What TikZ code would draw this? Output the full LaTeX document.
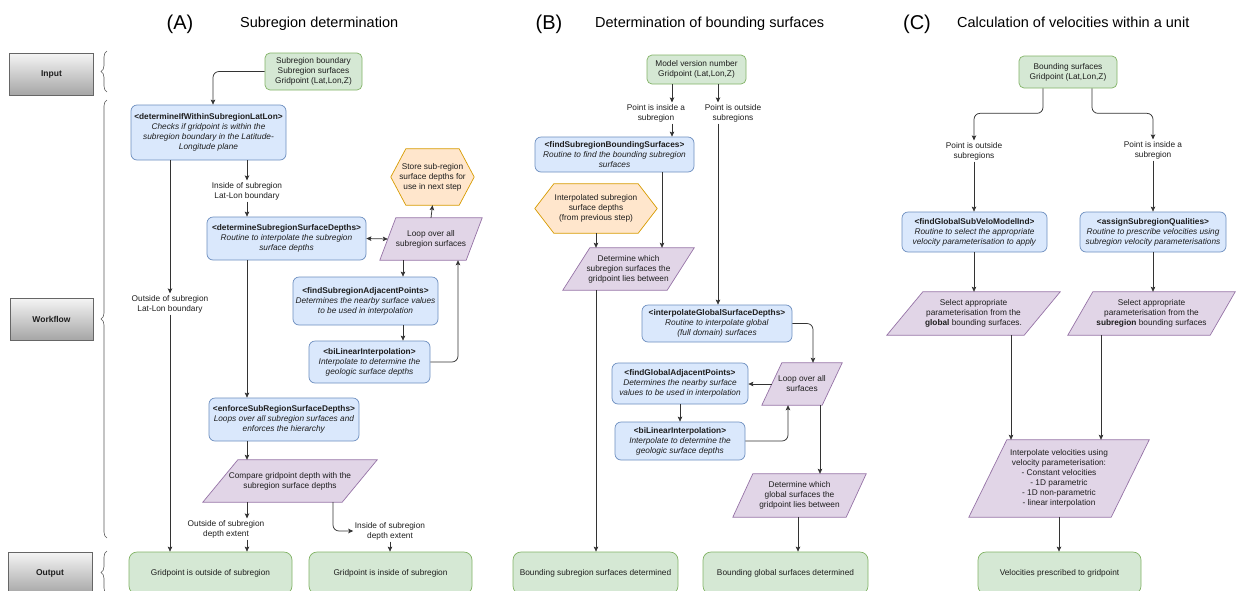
\documentclass[tikz,border=0pt]{standalone}
\usepackage{fontspec}
\setmainfont{Liberation Sans}
\usetikzlibrary{arrows.meta,decorations.pathreplacing,backgrounds,calc}
\definecolor{bfill}{HTML}{DAE8FC}
\definecolor{bline}{HTML}{6C8EBF}
\definecolor{gfill}{HTML}{D5E8D4}
\definecolor{gline}{HTML}{82B366}
\definecolor{pfill}{HTML}{E1D5E7}
\definecolor{pline}{HTML}{9673A6}
\definecolor{ofill}{HTML}{FFE6CC}
\definecolor{oline}{HTML}{D79B00}
\definecolor{edgec}{HTML}{333333}
\definecolor{txtc}{HTML}{1E1E1E}
\newcommand\paraback[2]{\begin{pgfonlayer}{background}\draw[parashape] ([xshift=#2]#1.north west) -- (#1.north east) -- ([xshift=-#2]#1.south east) -- (#1.south west) -- cycle;\end{pgfonlayer}}
\newcommand\hexback[2]{\begin{pgfonlayer}{background}\draw[hexshape] ([xshift=#2]#1.north west) -- ([xshift=-#2]#1.north east) -- (#1.east) -- ([xshift=-#2]#1.south east) -- ([xshift=#2]#1.south west) -- (#1.west) -- cycle;\end{pgfonlayer}}
\tikzset{
 base/.style={font=\fontsize{8.3}{10}\selectfont, text=txtc, align=center, inner sep=0pt},
 sz/.style 2 args={minimum width=#1, minimum height=#2},
 blubox/.style={base, draw=bline, fill=bfill, rounded corners=6, line width=0.7pt},
 grnbox/.style={base, draw=gline, fill=gfill, rounded corners=5, line width=0.7pt},
 outbox/.style={grnbox, rounded corners=8},
 lbl/.style={base, inner sep=1.5pt},
 ptxt/.style={base},
 parashape/.style={draw=pline, fill=pfill, line width=0.7pt},
 hexshape/.style={draw=oline, fill=ofill, line width=0.7pt},
 graybox/.style={base, font=\fontsize{8.5}{10}\selectfont\bfseries, draw=black!60, top color=black!4, bottom color=black!35, line width=0.6pt},
 arr/.style={->, draw=edgec, line width=0.75pt},
 brc/.style={decorate, decoration={brace, amplitude=6pt}, draw=black!65, line width=0.6pt},
 ttl/.style={font=\fontsize{14.5}{16}\selectfont, anchor=base west, inner sep=0pt},
 ttlL/.style={font=\fontsize{20}{22}\selectfont, anchor=base, inner sep=0pt},
}
\begin{document}
\begin{tikzpicture}[x=1pt, y=-1pt, >={Stealth[length=5pt,width=4.5pt,inset=1pt]}]
\useasboundingbox (0,0) rectangle (1237,590);

% titles
\node[ttlL] (tA) at (180,29) {(A)};
\node[ttl] (tA2) at (240,27.5) {Subregion determination};
\node[ttlL] (tB) at (549,29) {(B)};
\node[ttl] (tB2) at (595,27.5) {Determination of bounding surfaces};
\node[ttlL] (tC) at (917,29) {(C)};
\node[ttl] (tC2) at (957,27.5) {Calculation of velocities within a unit};

% left gray labels
\node[graybox, sz={84}{42}] (gIn) at (51.5,74) {Input};
\node[graybox, sz={83}{42}] (gWf) at (51.5,319) {Workflow};
\node[graybox, sz={84}{42}] (gOut) at (50,573) {Output};
\draw[brc] (107,92) -- (107,51);
\draw[brc] (107,538) -- (107,100);
\draw[brc] (107,594) -- (107,551);

% ---------------- Column A ----------------
\node[grnbox, sz={97}{37}] (inA) at (313.5,71.5) {Subregion boundary\\Subregion surfaces\\Gridpoint (Lat,Lon,Z)};
\node[blubox, sz={155}{55}] (dA1) at (208.5,132.5) {\textbf{<determineIfWithinSubregionLatLon>}\\\textit{Checks if gridpoint is within the}\\\textit{subregion boundary in the Latitude-}\\\textit{Longitude plane}};
\node[lbl] (lA1) at (247,191) {Inside of subregion\\Lat-Lon boundary};
\node[lbl] (lA2) at (170,304) {Outside of subregion\\Lat-Lon boundary};
\node[blubox, sz={159}{43}] (dA2) at (286.5,238.5) {\textbf{<determineSubregionSurfaceDepths>}\\\textit{Routine to interpolate the subregion}\\\textit{surface depths}};
\node[ptxt, sz={102}{42}] (pA1) at (431,239) {Loop over all\\subregion surfaces};
\paraback{pA1}{16}
\node[ptxt, sz={83}{56}] (hA) at (432.5,177) {Store sub-region\\surface depths for\\use in next step};
\hexback{hA}{15}
\node[blubox, sz={145}{48}] (dA3) at (365.5,301) {\textbf{<findSubregionAdjacentPoints>}\\\textit{Determines the nearby surface values}\\\textit{to be used in interpolation}};
\node[blubox, sz={121}{42}] (dA4) at (369.5,362) {\textbf{<biLinearInterpolation>}\\\textit{Interpolate to determine the}\\\textit{geologic surface depths}};
\node[blubox, sz={150}{43}] (dA5) at (284,419.5) {\textbf{<enforceSubRegionSurfaceDepths>}\\\textit{Loops over all subregion surfaces and}\\\textit{enforces the hierarchy}};
\node[ptxt, sz={174}{42}] (pA2) at (290,481) {Compare gridpoint depth with the\\subregion surface depths};
\paraback{pA2}{35}
\node[lbl] (lA3) at (226,529) {Outside of subregion\\depth extent};
\node[lbl] (lA4) at (390,531) {Inside of subregion\\depth extent};
\node[outbox, sz={163}{42}] (oA1) at (210.5,573) {Gridpoint is outside of subregion};
\node[outbox, sz={163}{42}] (oA2) at (390.5,573) {Gridpoint is inside of subregion};

\draw[arr, rounded corners=6] (inA.west) -| ([xshift=4.5]dA1.north);
\draw[arr] (dA1.south -| lA1.north) -- (lA1.north);
\draw[arr] (lA1.south) -- (lA1.south |- dA2.north);
\draw[arr] (dA1.south -| lA2.north) -- (lA2.north);
\draw[arr] (lA2.south) -- (lA2.south |- oA1.north);
\draw[arr, <->] (dA2.east) -- ([xshift=8]pA1.west);
\draw[arr] (pA1.north) -- (hA.south);
\draw[arr] ([xshift=-28]pA1.south) -- ([xshift=-28]pA1.south |- dA3.north);
\draw[arr] ([xshift=37.5]dA3.south) -- ([xshift=37.5]dA3.south |- dA4.north);
\draw[arr, rounded corners=6] (dA4.east) -| ([xshift=27]pA1.south);
\draw[arr] (lA1.south |- dA2.south) -- (lA1.south |- dA5.north);
\draw[arr] (lA1.south |- dA5.south) -- (lA1.south |- pA2.north);
\draw[arr] (lA1.south |- pA2.south) -- (lA1.south |- lA3.north);
\draw[arr] (lA1.south |- lA3.south) -- (lA1.south |- oA1.north);
\draw[arr, rounded corners=6] ([xshift=43]pA2.south) |- (lA4.west);
\draw[arr] (lA4.south) -- (lA4.south |- oA2.north);

% ---------------- Column B ----------------
\node[grnbox, sz={99}{29}] (inB) at (696.5,69.5) {Model version number\\Gridpoint (Lat,Lon,Z)};
\node[lbl] (lB1) at (656,113) {Point is inside a\\subregion};
\node[lbl] (lB2) at (733,113) {Point is outside\\subregions};
\coordinate (xB1) at (672,0);
\coordinate (xB2) at (718,0);
\node[blubox, sz={159}{35}] (dB1) at (614.5,154.5) {\textbf{<findSubregionBoundingSurfaces>}\\\textit{Routine to find the bounding subregion}\\\textit{surfaces}};
\node[ptxt, sz={122}{49}] (hB) at (596,208.5) {Interpolated subregion\\surface depths\\(from previous step)};
\hexback{hB}{19}
\node[ptxt, sz={131}{42}] (pB1) at (628.5,269) {Determine which\\subregion surfaces the\\gridpoint lies between};
\paraback{pB1}{27}
\node[blubox, sz={150}{37}] (dB2) at (717,323.5) {\textbf{<interpolateGlobalSurfaceDepths>}\\\textit{Routine to interpolate global}\\\textit{(full domain) surfaces}};
\node[ptxt, sz={80}{42}] (pB2) at (802,384) {Loop over all\\surfaces};
\paraback{pB2}{20}
\node[blubox, sz={136}{41}] (dB3) at (680,383.5) {\textbf{<findGlobalAdjacentPoints>}\\\textit{Determines the nearby surface}\\\textit{values to be used in interpolation}};
\node[blubox, sz={130}{38}] (dB4) at (680,441) {\textbf{<biLinearInterpolation>}\\\textit{Interpolate to determine the}\\\textit{geologic surface depths}};
\node[ptxt, sz={133}{43}] (pB3) at (799.5,495.5) {Determine which\\global surfaces the\\gridpoint lies between};
\paraback{pB3}{20}
\node[outbox, sz={165}{42}] (oB1) at (595.5,573) {Bounding subregion surfaces determined};
\node[outbox, sz={165}{42}] (oB2) at (785.5,573) {Bounding global surfaces determined};

\draw[arr] (inB.south -| xB1) -- (lB1.north -| xB1);
\draw[arr] (inB.south -| xB2) -- (lB2.north -| xB2);
\draw[arr] (lB1.south -| xB1) -- (dB1.north -| xB1);
\draw[arr] (lB2.south -| xB2) -- (dB2.north -| xB2);
\draw[arr] ([xshift=47.5]dB1.south) -- ([xshift=47.5]dB1.south |- pB1.north);
\draw[arr] (hB.south) -- (hB.south |- pB1.north);
\draw[arr] (hB.south |- pB1.south) -- (hB.south |- oB1.north);
\draw[arr, rounded corners=6] (dB2.east) -| ([xshift=11]pB2.north);
\draw[arr] ([xshift=10]pB2.west) -- (pB2.west -| dB3.east);
\draw[arr] (dB3.south) -- (dB4.north);
\draw[arr, rounded corners=6] (dB4.east) -| ([xshift=-14]pB2.south);
\draw[arr] ([xshift=18]pB2.south) -- ([xshift=18]pB2.south |- pB3.north);
\draw[arr] ([xshift=-1.5]pB3.south) -- ([xshift=-1.5]pB3.south |- oB2.north);

% ---------------- Column C ----------------
\node[grnbox, sz={98}{32}] (inC) at (1068,72) {Bounding surfaces\\Gridpoint (Lat,Lon,Z)};
\node[lbl] (lC1) at (974,151) {Point is outside\\subregions};
\node[lbl] (lC2) at (1153,150) {Point is inside a\\subregion};
\node[blubox, sz={145}{40}] (dC1) at (974.5,232) {\textbf{<findGlobalSubVeloModelInd>}\\\textit{Routine to select the appropriate}\\\textit{velocity parameterisation to apply}};
\node[blubox, sz={146}{40}] (dC2) at (1153,232) {\textbf{<assignSubregionQualities>}\\\textit{Routine to prescribe velocities using}\\\textit{subregion velocity parameterisations}};
\node[ptxt, sz={173}{43}] (pC1) at (973.5,313.5) {Select appropriate\\parameterisation from the\\\textbf{global} bounding surfaces.};
\paraback{pC1}{36}
\node[ptxt, sz={167}{43}] (pC2) at (1151.5,313.5) {Select appropriate\\parameterisation from the\\\textbf{subregion} bounding surfaces};
\paraback{pC2}{25}
\node[ptxt, sz={180}{77}] (pC3) at (1059,478.5) {Interpolate velocities using\\velocity parameterisation:\\- Constant velocities\\- 1D parametric\\- 1D non-parametric\\- linear interpolation};
\paraback{pC3}{38}
\node[outbox, sz={163}{42}] (oC) at (1059.5,573) {Velocities prescribed to gridpoint};

\draw[arr, rounded corners=6] ([xshift=-25]inC.south) -- ++(0,25) -| (lC1.north);
\draw[arr, rounded corners=6] ([xshift=24]inC.south) -- ++(0,25) -| (lC2.north);
\draw[arr] (lC1.south) -- (lC1.south |- dC1.north);
\draw[arr] (lC2.south) -- (lC2.south |- dC2.north);
\draw[arr] (lC1.south |- dC1.south) -- (lC1.south |- pC1.north);
\draw[arr] (lC2.south |- dC2.south) -- (lC2.south |- pC2.north);
\draw[arr] ([xshift=37.5]pC1.south) -- ([xshift=37.5]pC1.south |- pC3.north);
\draw[arr] ([xshift=-50.5]pC2.south) -- ([xshift=-50.5]pC2.south |- pC3.north);
\draw[arr] (pC3.south) -- (pC3.south |- oC.north);
\end{tikzpicture}
\end{document}
